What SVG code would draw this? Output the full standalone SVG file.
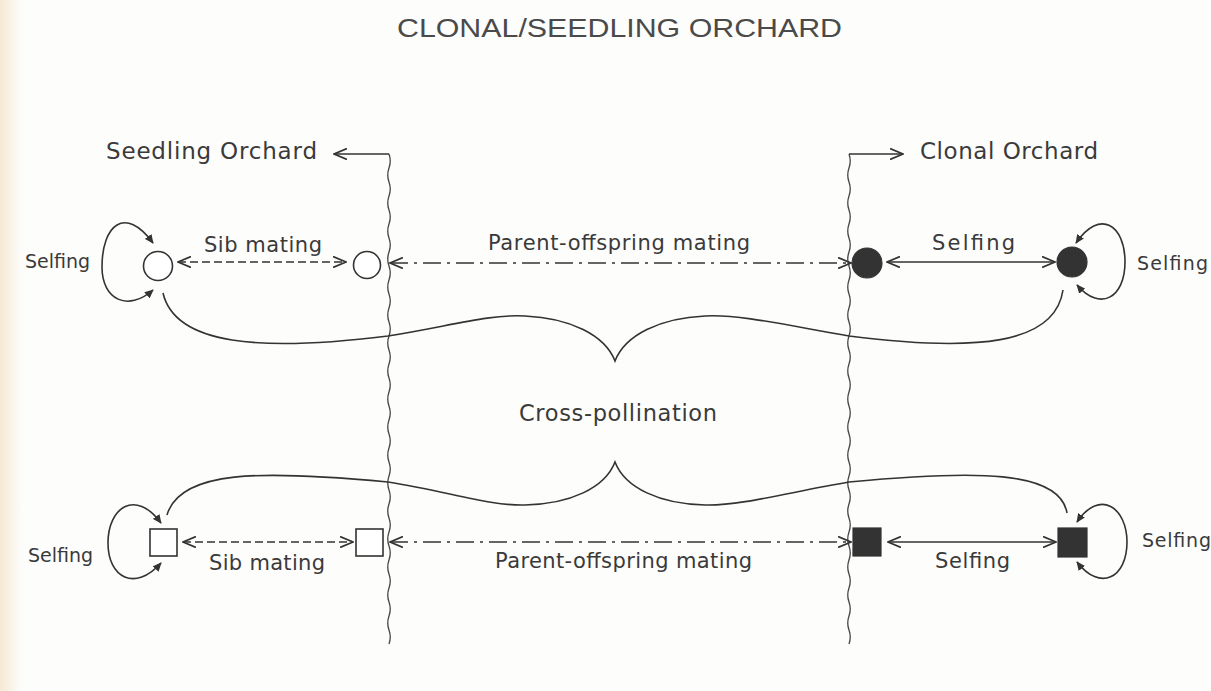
<svg xmlns="http://www.w3.org/2000/svg" width="1211" height="691" viewBox="0 0 1211 691">
<defs>
<linearGradient id="bg" x1="0" y1="0" x2="1" y2="0">
<stop offset="0" stop-color="#f4e9d4"/>
<stop offset="1" stop-color="#fdfdfc"/>
</linearGradient>
<marker id="oa" viewBox="0 0 14 12" refX="13" refY="6" markerWidth="14" markerHeight="12" markerUnits="userSpaceOnUse" orient="auto-start-reverse">
<path d="M0,0.5 L13,6 L0,11.5" fill="none" stroke="#333" stroke-width="1.7" stroke-dasharray="none"/>
</marker>
<marker id="fa" viewBox="0 0 10 10" refX="9" refY="5" markerWidth="9" markerHeight="9" markerUnits="userSpaceOnUse" orient="auto-start-reverse">
<path d="M0,0.5 L10,5 L0,9.5 z" fill="#333"/>
</marker>
</defs>
<style>
text{font-family:"DejaVu Sans","Liberation Sans",sans-serif;fill:#3a3a3a}
.side{font-size:19px}
.lbl{font-size:21px}
.big{font-size:23px}
.ln{fill:none;stroke:#333;stroke-width:1.6}
.wave{fill:none;stroke:#444;stroke-width:1.3}
.dash{stroke-dasharray:8 4}
.dd{stroke-dasharray:18 6 3 6}
.open{fill:#fff;stroke:#333;stroke-width:1.6}
.fill{fill:#333;stroke:#333;stroke-width:1.2}
</style>
<rect x="0" y="0" width="1211" height="691" fill="#fdfdfc"/>
<rect x="0" y="0" width="22" height="691" fill="url(#bg)"/>

<text x="397" y="37" font-size="26" textLength="445" lengthAdjust="spacingAndGlyphs" style="font-family:'Liberation Sans',sans-serif;fill:#4a4a4a">CLONAL/SEEDLING  ORCHARD</text>

<g id="orchard-labels">
<text class="big" x="106" y="159" textLength="211" lengthAdjust="spacing">Seedling Orchard</text>
<text class="big" x="920" y="159" textLength="178" lengthAdjust="spacing">Clonal Orchard</text>
</g>

<g id="connectors">
<path class="wave" d="M389,154 q2.5,7 0,14 t0,14 t0,14 t0,14 t0,14 t0,14 t0,14 t0,14 t0,14 t0,14 t0,14 t0,14 t0,14 t0,14 t0,14 t0,14 t0,14 t0,14 t0,14 t0,14 t0,14 t0,14 t0,14 t0,14 t0,14 t0,14 t0,14 t0,14 t0,14 t0,14 t0,14 t0,14 t0,14 t0,14 t0,14"/>
<path class="wave" d="M849,154 q2.5,7 0,14 t0,14 t0,14 t0,14 t0,14 t0,14 t0,14 t0,14 t0,14 t0,14 t0,14 t0,14 t0,14 t0,14 t0,14 t0,14 t0,14 t0,14 t0,14 t0,14 t0,14 t0,14 t0,14 t0,14 t0,14 t0,14 t0,14 t0,14 t0,14 t0,14 t0,14 t0,14 t0,14 t0,14 t0,14"/>
<path class="ln" d="M389,154 H334" marker-end="url(#oa)"/>
<path class="ln" d="M849,154 H903" marker-end="url(#oa)"/>

<path class="ln dash" d="M178,262 H346" marker-start="url(#oa)" marker-end="url(#oa)"/>
<path class="ln dd" d="M390,263 H851" marker-start="url(#oa)" marker-end="url(#oa)"/>
<path class="ln" d="M887,262 H1055" marker-start="url(#oa)" marker-end="url(#oa)"/>
<path class="ln" d="M153,290 C128,312 102,300 102,267 C102,225 125,205 153,243" marker-start="url(#fa)" marker-end="url(#fa)"/>
<path class="ln" d="M1076,243 C1100,208 1125,225 1125,262 C1125,298 1100,312 1077,285" marker-start="url(#fa)" marker-end="url(#fa)"/>

<path class="ln dash" d="M183,542 H353" marker-start="url(#oa)" marker-end="url(#oa)"/>
<path class="ln dd" d="M390,542 H851" marker-start="url(#oa)" marker-end="url(#oa)"/>
<path class="ln" d="M888,542 H1056" marker-start="url(#oa)" marker-end="url(#oa)"/>
<path class="ln" d="M161,563 C135,592 108,578 108,543 C108,508 135,488 161,523" marker-start="url(#fa)" marker-end="url(#fa)"/>
<path class="ln" d="M1077,522 C1100,488 1127,508 1127,542 C1127,578 1100,592 1077,562" marker-start="url(#fa)" marker-end="url(#fa)"/>

<path class="ln" d="M163,293 C175,345 260,352 388,336 C450,326 490,314 525,316 C570,318 605,335 615,361 C625,335 660,318 705,316 C740,314 790,326 849,336 C975,352 1055,345 1063,290"/>
<path class="ln" d="M167,515 C180,470 260,470 388,482 C450,492 490,506 525,505 C570,504 605,488 615,462 C625,488 660,504 705,505 C740,506 790,492 849,482 C975,470 1060,470 1067,513"/>
</g>

<g id="labels">
<text class="lbl" x="204" y="252" textLength="118" lengthAdjust="spacing">Sib mating</text>
<text class="lbl" x="488" y="250" textLength="262" lengthAdjust="spacing">Parent-offspring mating</text>
<text class="lbl" x="932" y="250" textLength="83" lengthAdjust="spacing">Selfing</text>
<text class="side" x="25" y="268" textLength="65" lengthAdjust="spacing">Selfing</text>
<text class="side" x="1137" y="270" textLength="71" lengthAdjust="spacing">Selfing</text>
<text x="519" y="421" font-size="22.5" textLength="198" lengthAdjust="spacing">Cross-pollination</text>
<text class="lbl" x="209" y="570" textLength="116" lengthAdjust="spacing">Sib mating</text>
<text class="lbl" x="495" y="568" textLength="257" lengthAdjust="spacing">Parent-offspring mating</text>
<text class="lbl" x="935" y="568" textLength="75" lengthAdjust="spacing">Selfing</text>
<text class="side" x="28" y="562" textLength="65" lengthAdjust="spacing">Selfing</text>
<text class="side" x="1142" y="547" textLength="69" lengthAdjust="spacing">Selfing</text>
</g>

<g id="seedling-parent-circle"><circle class="open" cx="158" cy="266" r="14.5"/></g>
<g id="seedling-offspring-circle"><circle class="open" cx="367" cy="265" r="13.5"/></g>
<g id="clonal-circle-1"><circle class="fill" cx="867" cy="263" r="15"/></g>
<g id="clonal-circle-2"><circle class="fill" cx="1072" cy="262" r="15"/></g>
<g id="seedling-parent-square"><rect class="open" x="150" y="529" width="27" height="27"/></g>
<g id="seedling-offspring-square"><rect class="open" x="356" y="529" width="27" height="27"/></g>
<g id="clonal-square-1"><rect class="fill" x="853" y="528" width="28" height="28"/></g>
<g id="clonal-square-2"><rect class="fill" x="1058" y="528" width="29" height="29"/></g>
</svg>
